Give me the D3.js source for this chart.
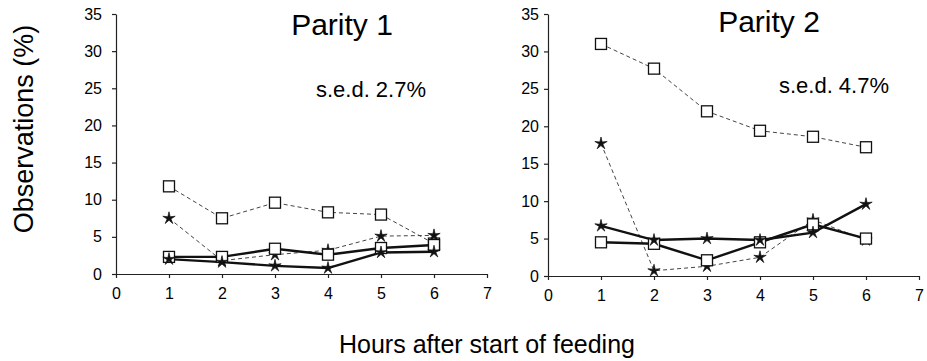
<!DOCTYPE html>
<html>
<head>
<meta charset="utf-8">
<script src="https://cdn.jsdelivr.net/npm/d3@7"></script>
<style>
  body { margin: 0; background: #fff; }
  text { font-family: "Liberation Sans", Arial, sans-serif; fill: #000; }
</style>
</head>
<body>
<div id="chart"></div>
<script>
// hours on the x axis
var hours = [1, 2, 3, 4, 5, 6];
var yTicks = [0, 5, 10, 15, 20, 25, 30, 35];
var xTicks = [0, 1, 2, 3, 4, 5, 6, 7];

// Parity 1 series
var p1SquareDashed = [11.8, 7.5, 9.6, 8.3, 8.0, 4.1];
var p1StarDashed   = [7.5, 1.8, 2.6, 3.2, 5.1, 5.2];
var p1SquareSolid  = [2.3, 2.3, 3.4, 2.6, 3.5, 3.9];
var p1StarSolid    = [2.0, 1.6, 1.1, 0.8, 2.9, 3.0];

// Parity 2 series
var p2SquareDashed = [31.0, 27.7, 22.0, 19.4, 18.6, 17.2];
var p2StarDashed   = [17.7, 0.7, 1.3, 2.5, 7.5, 4.8];
var p2SquareSolid  = [4.5, 4.3, 2.1, 4.5, 6.9, 5.0];
var p2StarSolid    = [6.7, 4.8, 5.0, 4.8, 5.8, 9.6];

var panels = [
  { title: "Parity 1", sed: "s.e.d. 2.7%", x0: 116, x1: 487, yb: 274, yt: 14, pad: 10,
    titleX: 342, titleY: 35, sedX: 371, sedY: 97,
    series: [
      { values: p1SquareDashed, marker: "square", solid: false },
      { values: p1StarDashed, marker: "star", solid: false },
      { values: p1SquareSolid, marker: "square", solid: true },
      { values: p1StarSolid, marker: "star", solid: true }
    ] },
  { title: "Parity 2", sed: "s.e.d. 4.7%", x0: 548, x1: 919, yb: 276, yt: 14, pad: 5,
    titleX: 769, titleY: 32, sedX: 834, sedY: 93,
    series: [
      { values: p2SquareDashed, marker: "square", solid: false },
      { values: p2StarDashed, marker: "star", solid: false },
      { values: p2SquareSolid, marker: "square", solid: true },
      { values: p2StarSolid, marker: "star", solid: true }
    ] }
];

var svg = d3.select("#chart").append("svg")
  .attr("width", 927)
  .attr("height", 361);

// thin five point star, like the old spreadsheet marker
function starPath(r) {
  var pts = [];
  for (var i = 0; i < 10; i++) {
    var a = -Math.PI / 2 + i * Math.PI / 5;
    var rr = i % 2 === 0 ? r : r * 0.3;
    pts.push([rr * Math.cos(a), rr * Math.sin(a)]);
  }
  return "M" + pts.map(function(p) { return p[0].toFixed(2) + "," + p[1].toFixed(2); }).join("L") + "Z";
}

panels.forEach(function(p) {
  var x = d3.scaleLinear().domain([0, 7]).range([p.x0, p.x1]);
  var y = d3.scaleLinear().domain([0, 35]).range([p.yb, p.yt]);

  var yAxis = svg.append("g")
    .attr("transform", "translate(" + p.x0 + ",0)")
    .call(d3.axisLeft(y).tickValues(yTicks).tickSize(4).tickSizeOuter(0).tickPadding(p.pad));
  var xAxis = svg.append("g")
    .attr("transform", "translate(0," + p.yb + ")")
    .call(d3.axisBottom(x).tickValues(xTicks).tickFormat(d3.format("d"))
      .tickSize(4).tickSizeOuter(0).tickPadding(10));

  [yAxis, xAxis].forEach(function(a) {
    a.selectAll("path, line").attr("stroke", "#222").attr("stroke-width", 1.2);
    a.selectAll("text")
      .style("font-family", "'Liberation Sans', Arial, sans-serif")
      .style("font-size", "16px")
      .attr("fill", "#000");
  });

  var line = d3.line()
    .x(function(d, i) { return x(hours[i]); })
    .y(function(d) { return y(d); });

  // dashed first, solid on top
  p.series.forEach(function(s) {
    svg.append("path")
      .datum(s.values)
      .attr("d", line)
      .attr("fill", "none")
      .attr("stroke", s.solid ? "#111" : "#444")
      .attr("stroke-width", s.solid ? 2.4 : 1)
      .attr("stroke-dasharray", s.solid ? null : "4,3");
  });

  p.series.forEach(function(s) {
    var g = svg.append("g");
    if (s.marker === "square") {
      g.selectAll("rect")
        .data(s.values)
        .enter().append("rect")
        .attr("x", function(d, i) { return x(hours[i]) - 5.5; })
        .attr("y", function(d) { return y(d) - 5.5; })
        .attr("width", 11)
        .attr("height", 11)
        .attr("fill", "#fff")
        .attr("stroke", "#111")
        .attr("stroke-width", 1.3);
    } else {
      g.selectAll("path")
        .data(s.values)
        .enter().append("path")
        .attr("d", starPath(6.5))
        .attr("transform", function(d, i) { return "translate(" + x(hours[i]) + "," + y(d) + ")"; })
        .attr("fill", "#111")
        .attr("stroke", "#111")
        .attr("stroke-width", 0.7);
    }
  });

  svg.append("text")
    .attr("x", p.titleX)
    .attr("y", p.titleY)
    .attr("text-anchor", "middle")
    .style("font-size", "30px")
    .text(p.title);

  svg.append("text")
    .attr("x", p.sedX)
    .attr("y", p.sedY)
    .attr("text-anchor", "middle")
    .style("font-size", "22px")
    .text(p.sed);
});

svg.append("text")
  .attr("transform", "translate(33,129) rotate(-90)")
  .attr("text-anchor", "middle")
  .style("font-size", "27px")
  .text("Observations (%)");

svg.append("text")
  .attr("x", 487)
  .attr("y", 353)
  .attr("text-anchor", "middle")
  .style("font-size", "25px")
  .text("Hours after start of feeding");
</script>
</body>
</html>
